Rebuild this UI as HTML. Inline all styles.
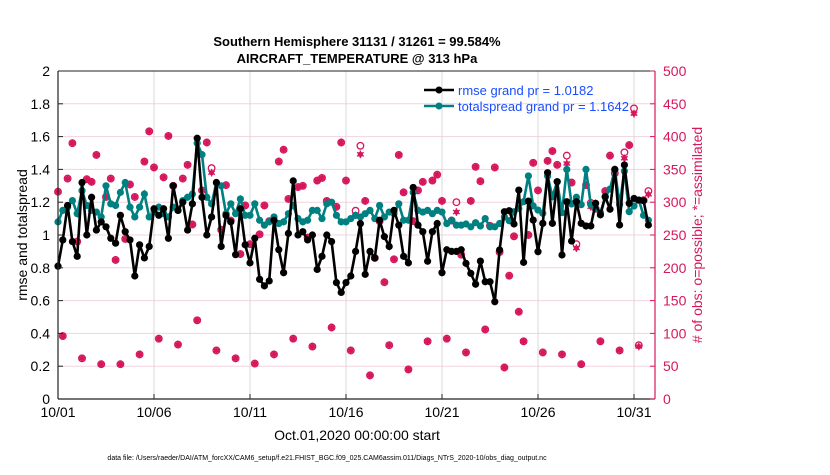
<!DOCTYPE html>
<html><head><meta charset="utf-8"><style>
body{margin:0;background:#fff;font-family:"Liberation Sans",sans-serif}
svg text{font-family:"Liberation Sans",sans-serif}
</style></head><body>
<svg id="chart" width="830" height="470" xmlns="http://www.w3.org/2000/svg">
<rect width="830" height="470" fill="#fff"/>
<g id="grid"></g><g id="series"></g><g id="axes"></g>
<text x="357" y="46" text-anchor="middle" font-size="13" font-weight="bold">Southern Hemisphere 31131 / 31261 = 99.584%</text>
<text x="357" y="63" text-anchor="middle" font-size="13" font-weight="bold">AIRCRAFT_TEMPERATURE @ 313 hPa</text>
<text transform="translate(27,235) rotate(-90)" text-anchor="middle" font-size="14">rmse and totalspread</text>
<text transform="translate(702,235) rotate(-90)" text-anchor="middle" font-size="14" fill="#d6175c">#  of obs: o=possible; *=assimilated</text>
<text x="357" y="440" text-anchor="middle" font-size="14">Oct.01,2020 00:00:00 start</text>
<text x="327" y="460" text-anchor="middle" font-size="7">data file: /Users/raeder/DAI/ATM_forcXX/CAM6_setup/f.e21.FHIST_BGC.f09_025.CAM6assim.011/Diags_NTrS_2020-10/obs_diag_output.nc</text>
<g>
<line x1="424" y1="90" x2="454" y2="90" stroke="#000" stroke-width="2.5"/><circle cx="439" cy="90" r="3.5" fill="#000"/>
<text x="458" y="95" font-size="13" fill="#1a4dff">rmse grand pr = 1.0182</text>
<line x1="424" y1="106" x2="454" y2="106" stroke="#008080" stroke-width="2.5"/><circle cx="439" cy="106" r="3.5" fill="#008080"/>
<text x="458" y="111" font-size="13" fill="#1a4dff">totalspread grand pr = 1.1642</text>
</g>
</svg>
<script>
const rmse=[0.81,0.97,1.18,0.96,0.87,1.32,1.0,1.23,1.03,1.08,1.05,0.98,0.95,1.12,1.02,0.97,0.75,0.94,0.86,0.93,1.16,1.12,1.16,0.98,1.30,1.15,1.2,1.03,1.19,1.59,1.23,1.0,1.11,1.32,0.93,1.12,1.08,0.88,1.16,0.94,0.83,0.98,0.73,0.69,
0.72,1.09,0.91,0.77,1.01,1.33,1.0,1.02,0.97,1.0,0.79,0.87,1.0,0.96,0.71,0.65,0.71,0.75,0.90,1.07,0.76,0.90,0.86,1.09,0.99,0.93,1.15,1.06,0.87,0.83,1.29,1.06,1.02,0.84,1.02,1.07,0.77,0.91,0.90,0.90,0.91,
0.827,0.766,0.70,0.841,0.715,0.715,0.593,0.909,1.142,1.148,1.067,1.274,0.833,1.207,1.091,0.898,1.071,1.38,1.071,1.325,0.878,1.203,0.963,1.203,1.071,1.055,1.055,1.193,1.123,1.234,1.157,1.40,1.061,1.427,1.193,1.223,1.213,1.209,1.061];
const spread=[1.08,1.15,1.17,1.21,1.13,1.27,1.18,1.15,1.14,1.11,1.30,1.19,1.18,1.26,1.32,1.17,1.11,1.17,1.25,1.11,1.14,1.17,1.13,1.11,1.17,1.15,1.21,1.23,1.25,1.56,1.49,1.23,1.19,1.32,1.30,1.13,1.19,1.13,1.22,1.12,1.12,1.19,1.09,1.06,
1.08,1.11,1.07,1.08,1.13,1.18,1.10,1.08,1.09,1.15,1.15,1.10,1.19,1.2,1.12,1.08,1.08,1.10,1.12,1.11,1.13,1.15,1.10,1.18,1.11,1.14,1.13,1.19,1.09,1.09,1.26,1.15,1.14,1.15,1.13,1.15,1.14,1.07,1.09,1.06,1.06,
1.067,1.05,1.075,1.055,1.10,1.05,1.05,1.07,1.11,1.087,1.142,1.162,1.203,1.36,1.177,1.152,1.132,1.36,1.234,1.325,1.136,1.40,1.189,1.23,1.185,1.40,1.185,1.162,1.136,1.23,1.28,1.40,1.185,1.39,1.142,1.177,1.213,1.12,1.09];
const assimilated=[316,96,336,390,240,62,335,331,372,53,308,336,212,53,244,327,308,68,362,408,353,92,338,401,325,83,336,357,266,120,318,391,345,74,258,326,272,62,221,295,236,54,251,295,271,68,362,380,305,92,323,325,246,80,333,337,302,109,293,391,333,74,280,373,302,36,215,271,178,82,213,372,315,45,271,318,331,88,333,342,302,92,272,285,220,71,302,354,332,106,264,353,224,48,188,248,133,88,250,360,318,71,363,378,357,68,359,330,230,53,326,293,290,88,317,371,344,74,367,387,435,80,303,312];
const possible=[316,96,336,390,240,62,335,331,372,53,308,336,212,53,244,327,308,68,362,408,353,92,338,401,325,83,336,357,266,120,318,391,352,74,258,326,272,62,221,295,236,54,251,295,271,68,362,380,305,92,323,325,246,80,333,337,302,109,293,391,333,74,287,386,302,36,215,271,178,82,213,372,315,45,271,318,331,88,333,342,302,92,272,300,220,71,302,354,332,106,264,353,224,48,188,248,133,88,250,360,318,71,363,378,357,68,371,330,236,53,326,299,290,88,317,371,344,74,376,387,443,82,303,317];
const yTicks=[0,0.2,0.4,0.6,0.8,1,1.2,1.4,1.6,1.8,2];
const y2Ticks=[0,50,100,150,200,250,300,350,400,450,500];
const xTickDays=[0,5,10,15,20,25,30];
const xTickLabels=['10/01','10/06','10/11','10/16','10/21','10/26','10/31'];
const stepDays=0.25;

const NS='http://www.w3.org/2000/svg';
const L=58,R=655,T=71,B=399;
const xs=d=>L+d*19.2;
const ys=v=>B-(v/2)*(B-T);
const y2=c=>B-(c/500)*(B-T);
function mk(tag,attrs,parent){const e=document.createElementNS(NS,tag);for(const k in attrs)e.setAttribute(k,attrs[k]);parent.appendChild(e);return e;}
const grid=document.getElementById('grid'),ser=document.getElementById('series'),ax=document.getElementById('axes');
y2Ticks.forEach(c=>{const g=mk('line',{x1:L,x2:R,y1:y2(c),y2:y2(c),stroke:'#f3d3e0','stroke-width':1},grid);

});
xTickDays.forEach(d=>{const g=mk('line',{x1:xs(d),x2:xs(d),y1:T,y2:B,stroke:'#d8d8d8','stroke-width':1},grid);

});
// counts
possible.forEach((c,i)=>{const e=mk('circle',{cx:xs(i*stepDays),cy:y2(c),r:3.3,fill:'none',stroke:'#d6175c','stroke-width':1.3},ser);

});
assimilated.forEach((c,i)=>{const cx=xs(i*stepDays),cy=y2(c);const g=mk('g',{stroke:'#d6175c','stroke-width':1.4},ser);


mk('circle',{cx:cx,cy:cy,r:2.6,fill:'#d6175c',stroke:'none'},g);
[[0,1],[0.87,0.5],[0.87,-0.5]].forEach(([a,b])=>mk('line',{x1:cx-a*3.8,y1:cy-b*3.8,x2:cx+a*3.8,y2:cy+b*3.8},g));});
function series(arr,color,name){const pts=arr.map((v,i)=>xs(i*stepDays)+','+ys(v)).join(' ');
const p=mk('polyline',{points:pts,fill:'none',stroke:color,'stroke-width':2.6},ser);


arr.forEach((v,i)=>{const c=mk('circle',{cx:xs(i*stepDays),cy:ys(v),r:3.6,fill:color},ser);

});}
series(spread,'#008080','totalspread');
series(rmse,'#000','rmse');
// axes
mk('line',{x1:L,x2:R,y1:T,y2:T,stroke:'#222','stroke-width':1},ax);
mk('line',{x1:L,x2:R,y1:B,y2:B,stroke:'#222','stroke-width':1.2},ax);
mk('line',{x1:L,x2:L,y1:T,y2:B,stroke:'#222','stroke-width':1.2},ax);
mk('line',{x1:R,x2:R,y1:T,y2:B,stroke:'#d6175c','stroke-width':1.2},ax);
yTicks.forEach(v=>{mk('line',{x1:L,x2:L+5,y1:ys(v),y2:ys(v),stroke:'#222'},ax);
const t=mk('text',{x:L-8,y:ys(v)+5,'text-anchor':'end','font-size':14},ax);t.textContent=String(v);

});
y2Ticks.forEach(c=>{mk('line',{x1:R-5,x2:R,y1:y2(c),y2:y2(c),stroke:'#d6175c'},ax);
const t=mk('text',{x:R+8,y:y2(c)+5,'font-size':14,fill:'#d6175c'},ax);t.textContent=String(c);

});
xTickDays.forEach((d,i)=>{mk('line',{x1:xs(d),x2:xs(d),y1:B,y2:B-5,stroke:'#222'},ax);
const t=mk('text',{x:xs(d),y:B+18,'text-anchor':'middle','font-size':14},ax);t.textContent=xTickLabels[i];

});
</script>
</body></html>
